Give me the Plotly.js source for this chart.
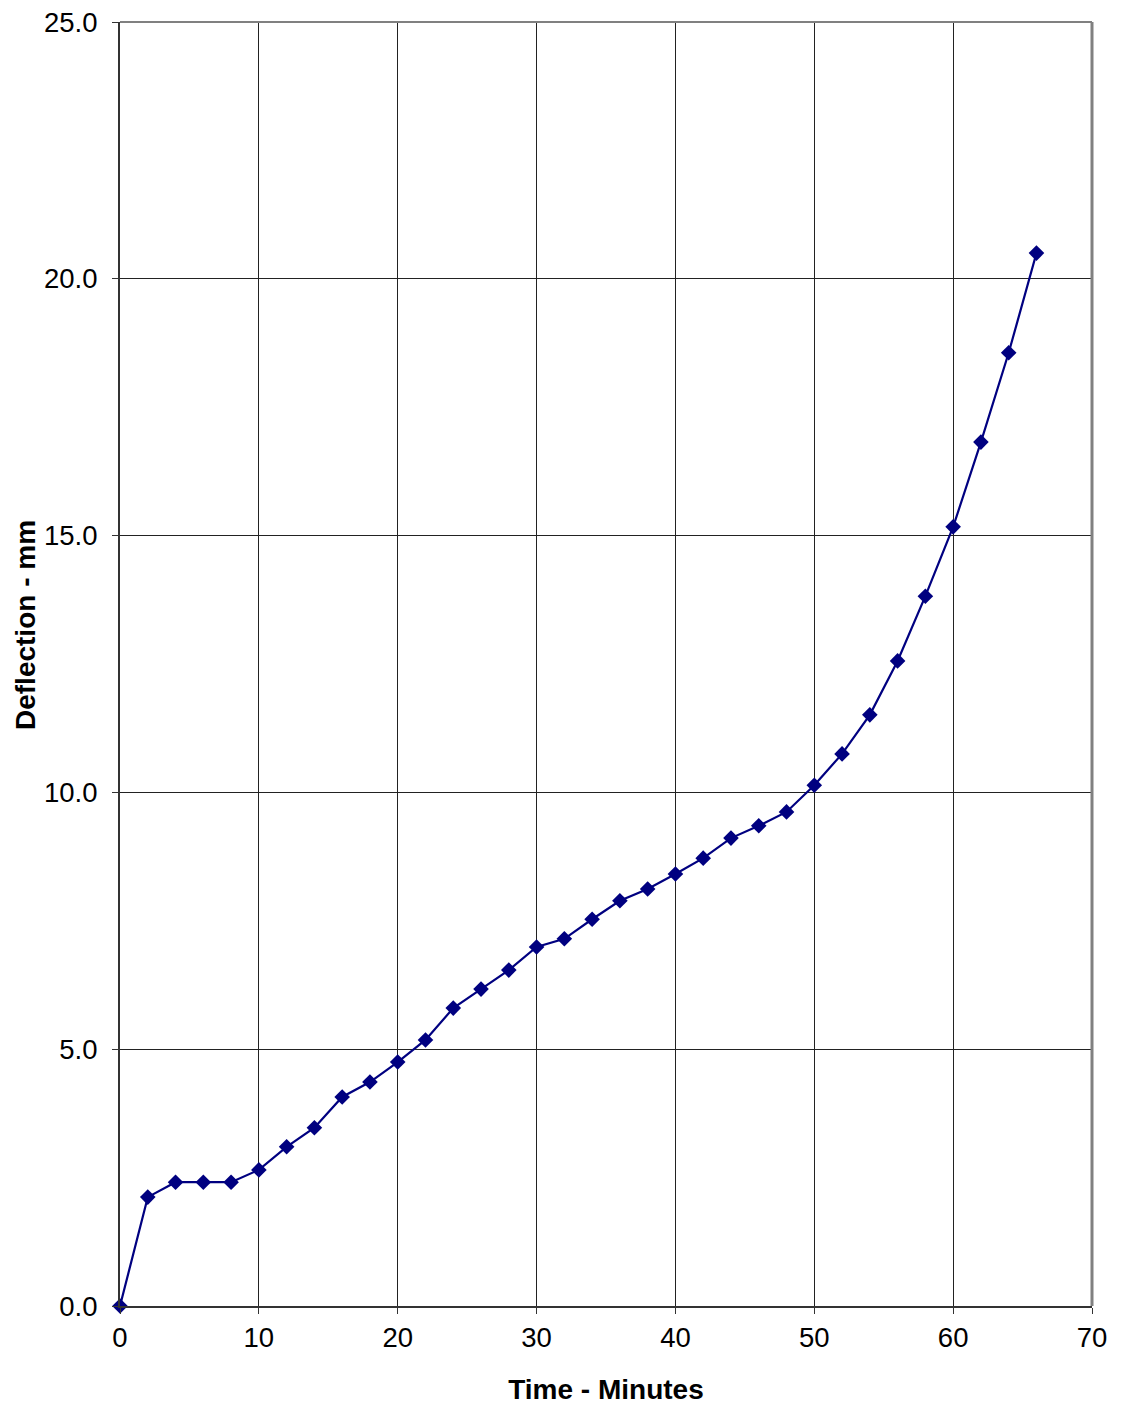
<!DOCTYPE html>
<html>
<head>
<meta charset="utf-8">
<script src="https://cdn.plot.ly/plotly-3.0.1.min.js"></script>
<style>html,body{margin:0;padding:0;background:#fff;}#chart{width:1121px;height:1410px;}</style>
</head>
<body>
<div id="chart"></div>
<script>
const timeMinutes = [0, 2, 4, 6, 8, 10, 12, 14, 16, 18, 20, 22, 24, 26, 28, 30, 32, 34, 36, 38, 40, 42, 44, 46, 48, 50, 52, 54, 56, 58, 60, 62, 64, 66];
const deflectionMm = [0.00, 2.12, 2.41, 2.41, 2.41, 2.65, 3.10, 3.47, 4.07, 4.36, 4.75, 5.18, 5.80, 6.17, 6.54, 6.99, 7.15, 7.53, 7.89, 8.12, 8.41, 8.72, 9.11, 9.35, 9.62, 10.14, 10.75, 11.51, 12.56, 13.82, 15.17, 16.82, 18.56, 20.50];
const xTicks = [0, 10, 20, 30, 40, 50, 60, 70];
const yTicks = [0, 5, 10, 15, 20, 25];
const yTickLabels = ['0.0', '5.0', '10.0', '15.0', '20.0', '25.0'];
const xTitle = 'Time - Minutes';
const yTitle = 'Deflection - mm';

const trace = {
  x: timeMinutes,
  y: deflectionMm,
  type: 'scatter',
  mode: 'lines+markers',
  line: {color: '#000080', width: 2.2},
  marker: {symbol: 'diamond', size: 12, color: '#000080'},
  cliponaxis: false,
  hoverinfo: 'x+y'
};

const fontFam = '"Liberation Sans", Arial, sans-serif';

const layout = {
  width: 1121,
  height: 1410,
  margin: {l: 120, r: 29, t: 22, b: 104},
  paper_bgcolor: '#ffffff',
  plot_bgcolor: '#ffffff',
  showlegend: false,
  font: {family: fontFam, size: 27.5, color: '#000'},
  xaxis: {
    range: [0, 70],
    tickvals: xTicks,
    ticktext: xTicks.map(String),
    showgrid: true,
    gridcolor: '#222',
    gridwidth: 1,
    zeroline: false,
    showline: true,
    linecolor: '#333',
    linewidth: 2,
    ticks: 'outside',
    ticklen: 6,
    tickcolor: '#333',
    tickfont: {family: fontFam, size: 27.5, color: '#000'},
    title: {text: '<b>' + xTitle + '</b>', font: {family: fontFam, size: 28, color: '#000'}, standoff: 27}
  },
  yaxis: {
    range: [0, 25],
    tickvals: yTicks,
    ticktext: yTickLabels,
    showgrid: true,
    gridcolor: '#222',
    gridwidth: 1,
    zeroline: false,
    showline: true,
    linecolor: '#333',
    linewidth: 2,
    ticks: 'outside',
    ticklen: 6,
    tickcolor: '#333',
    ticklabelstandoff: 9,
    tickfont: {family: fontFam, size: 27.5, color: '#000'}
  },
  annotations: [
    {
      text: '<b>' + yTitle + '</b>',
      xref: 'paper', yref: 'paper',
      x: (25 - 120) / 972, y: (1306 - 625) / 1284,
      xanchor: 'center', yanchor: 'middle',
      textangle: -90,
      showarrow: false,
      font: {family: fontFam, size: 28, color: '#000'}
    }
  ],
  shapes: [
    {type: 'line', xref: 'paper', yref: 'paper', x0: 0, x1: 1, y0: 1, y1: 1, line: {color: '#808080', width: 2}},
    {type: 'line', xref: 'paper', yref: 'paper', x0: 1, x1: 1, y0: 0, y1: 1, line: {color: '#808080', width: 3}}
  ]
};

Plotly.newPlot('chart', [trace], layout, {displayModeBar: false, staticPlot: true});
</script>
</body>
</html>
